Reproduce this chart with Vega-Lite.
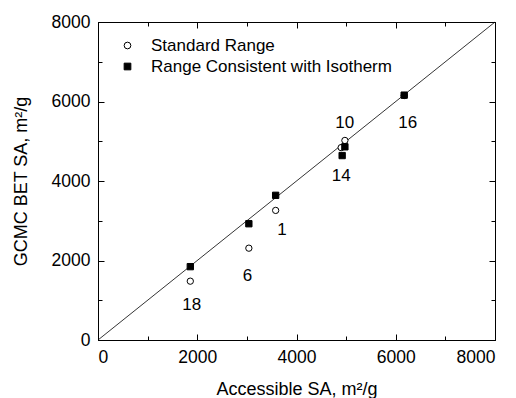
{
  "$schema": "https://vega.github.io/schema/vega-lite/v6.json",
  "width": 397,
  "height": 318,
  "autosize": "none",
  "padding": {"left": 98, "top": 22, "right": 21, "bottom": 58},
  "background": "white",
  "config": {
    "font": "Liberation Sans",
    "view": {"stroke": "black", "strokeWidth": 1},
    "axis": {
      "grid": false,
      "domainColor": "black",
      "tickColor": "black",
      "labelColor": "black",
      "titleColor": "black",
      "labelFontSize": 17.5,
      "titleFontSize": 18,
      "titleFontWeight": "normal",
      "labelFont": "Liberation Sans",
      "titleFont": "Liberation Sans"
    },
    "legend": {
      "orient": "none",
      "legendX": 21,
      "legendY": 15,
      "labelFontSize": 17,
      "labelFont": "Liberation Sans",
      "labelColor": "black",
      "labelLimit": 400,
      "symbolSize": 45,
      "symbolStrokeWidth": 1,
      "labelOffset": 15,
      "rowPadding": 3,
      "padding": 0
    }
  },
  "datasets": {
    "diag": [{"a": 0, "b": 0}, {"a": 8000, "b": 8000}],
    "points": [
      {"acc": 1860, "bet": 1480, "series": "Standard Range"},
      {"acc": 3040, "bet": 2310, "series": "Standard Range"},
      {"acc": 3580, "bet": 3260, "series": "Standard Range"},
      {"acc": 4900, "bet": 4840, "series": "Standard Range"},
      {"acc": 4975, "bet": 5020, "series": "Standard Range"},
      {"acc": 6170, "bet": 6150, "series": "Standard Range"},
      {"acc": 1860, "bet": 1845, "series": "Range Consistent with Isotherm"},
      {"acc": 3040, "bet": 2925, "series": "Range Consistent with Isotherm"},
      {"acc": 3580, "bet": 3640, "series": "Range Consistent with Isotherm"},
      {"acc": 4920, "bet": 4640, "series": "Range Consistent with Isotherm"},
      {"acc": 4975, "bet": 4860, "series": "Range Consistent with Isotherm"},
      {"acc": 6170, "bet": 6160, "series": "Range Consistent with Isotherm"}
    ],
    "labels": [
      {"lx": 1890, "ly": 880, "txt": "18"},
      {"lx": 3010, "ly": 1610, "txt": "6"},
      {"lx": 3710, "ly": 2770, "txt": "1"},
      {"lx": 4900, "ly": 4135, "txt": "14"},
      {"lx": 4970, "ly": 5470, "txt": "10"},
      {"lx": 6240, "ly": 5470, "txt": "16"}
    ]
  },
  "layer": [
    {
      "data": {"name": "diag"},
      "mark": {"type": "line", "color": "black", "strokeWidth": 0.8},
      "encoding": {
        "x": {
          "field": "a", "type": "quantitative",
          "scale": {"domain": [0, 8000], "nice": false, "zero": false},
          "axis": {
            "orient": "bottom",
            "values": [0, 1000, 2000, 3000, 4000, 5000, 6000, 7000, 8000],
            "format": "d",
            "labelExpr": "datum.value % 2000 === 0 ? datum.label : ''",
            "tickSize": {"condition": {"test": "datum.value % 2000 === 0", "value": -6}, "value": -4},
            "labelPadding": 14,
            "title": "Accessible SA, m²/g",
            "titlePadding": 15
          }
        },
        "y": {
          "field": "b", "type": "quantitative",
          "scale": {"domain": [0, 8000], "nice": false, "zero": false},
          "axis": {
            "orient": "left",
            "values": [0, 1000, 2000, 3000, 4000, 5000, 6000, 7000, 8000],
            "format": "d",
            "labelExpr": "datum.value % 2000 === 0 ? datum.label : ''",
            "tickSize": {"condition": {"test": "datum.value % 2000 === 0", "value": -6}, "value": -4},
            "labelPadding": 14,
            "title": "GCMC BET SA, m²/g",
            "titlePadding": 21
          }
        }
      }
    },
    {
      "data": {"name": "points"},
      "mark": {"type": "point", "strokeWidth": 1, "opacity": 1, "size": 40},
      "encoding": {
        "x": {"field": "acc", "type": "quantitative", "axis": null},
        "y": {"field": "bet", "type": "quantitative", "axis": null},
        "stroke": {"value": "black"},
        "shape": {
          "field": "series", "type": "nominal",
          "scale": {"domain": ["Standard Range", "Range Consistent with Isotherm"], "range": ["circle", "square"]},
          "legend": {"title": null}
        },
        "fill": {
          "field": "series", "type": "nominal",
          "scale": {"domain": ["Standard Range", "Range Consistent with Isotherm"], "range": ["white", "black"]},
          "legend": {"title": null}
        }
      }
    },
    {
      "data": {"name": "labels"},
      "mark": {"type": "text", "fontSize": 17, "font": "Liberation Sans", "color": "black", "align": "center", "baseline": "middle"},
      "encoding": {
        "x": {
          "field": "lx", "type": "quantitative",
          "axis": {
            "orient": "top",
            "values": [0, 1000, 2000, 3000, 4000, 5000, 6000, 7000, 8000],
            "labels": false,
            "title": null,
            "tickSize": {"condition": {"test": "datum.value % 2000 === 0", "value": -6}, "value": -4}
          }
        },
        "y": {
          "field": "ly", "type": "quantitative",
          "axis": {
            "orient": "right",
            "values": [0, 1000, 2000, 3000, 4000, 5000, 6000, 7000, 8000],
            "labels": false,
            "title": null,
            "tickSize": {"condition": {"test": "datum.value % 2000 === 0", "value": -6}, "value": -4}
          }
        },
        "text": {"field": "txt", "type": "nominal"}
      }
    }
  ]
}
